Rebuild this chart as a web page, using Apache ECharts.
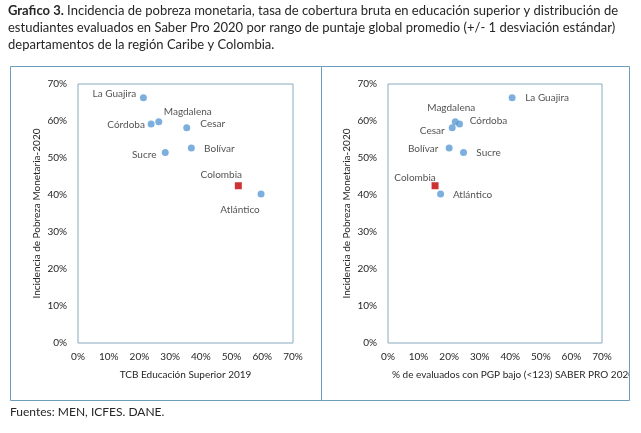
<!DOCTYPE html>
<html>
<head>
<meta charset="utf-8">
<script src="https://cdn.jsdelivr.net/npm/echarts@6/dist/echarts.min.js"></script>
<style>
html,body{margin:0;padding:0;background:#fff;}
#chart{width:641px;height:433px;}
</style>
</head>
<body>
<div id="chart"></div>
<script>
// ---- Data ----
var departamentos = ['La Guajira', 'Magdalena', 'Córdoba', 'Cesar', 'Bolívar', 'Sucre', 'Atlántico'];
var pobreza2020 = [66.3, 59.8, 59.2, 58.2, 52.7, 51.5, 40.3];
var tcb2019 = [21.3, 26.3, 23.8, 35.4, 36.9, 28.4, 59.6];
var pgpBajo2020 = [40.6, 22.0, 23.4, 21.0, 20.0, 24.7, 17.2];
var colombiaName = 'Colombia';
var colombiaPobreza = 42.5;
var colombiaTcb = 52.2;
var colombiaPgp = 15.4;
var axisTicks = [0, 10, 20, 30, 40, 50, 60, 70];

var titleBold = 'Grafico 3.';
var titleLines = [
  ' Incidencia de pobreza monetaria, tasa de cobertura bruta en educación superior y distribución de',
  'estudiantes evaluados en Saber Pro 2020 por rango de puntaje global promedio (+/- 1 desviación estándar)',
  'departamentos de la región Caribe y Colombia.'
];
var yAxisTitle = 'Incidencia de Pobreza Monetaria-2020';
var xAxisTitleLeft = 'TCB Educación Superior 2019';
var xAxisTitleRight = '% de evaluados con PGP bajo (<123) SABER PRO 2020';
var fuente = 'Fuentes: MEN, ICFES. DANE.';

// ---- Label placement (styling) ----
var offsLeft = {
  'La Guajira': [-29, -4], 'Magdalena': [29, -10], 'Córdoba': [-25, 1], 'Cesar': [26, -4],
  'Bolívar': [28, 1], 'Sucre': [-21, 2], 'Atlántico': [-21, 16], 'Colombia': [-17, -11]
};
var offsRight = {
  'La Guajira': [35, 0], 'Magdalena': [-4, -14], 'Córdoba': [29, -3], 'Cesar': [-20, 3],
  'Bolívar': [-26, 1], 'Sucre': [25, 0], 'Atlántico': [32, 1], 'Colombia': [-20, -8]
};

var FONT = 'Lato';
var TXT = '#262626';
var BLUE = '#5B9BD5';
var RED = '#C00000';
var FRAME = '#6f9cb8';
var PLOT = '#8aaac0';
var TF = 13;

function items(xs, offs) {
  return departamentos.map(function (n, i) {
    return {
      name: n, value: [xs[i], pobreza2020[i]],
      label: { offset: offs[n] }
    };
  });
}
function colItem(x, offs) {
  return [{ name: colombiaName, value: [x, colombiaPobreza], label: { offset: offs[colombiaName] } }];
}
var labelBase = {
  show: true, position: 'inside', align: 'center', verticalAlign: 'middle',
  formatter: '{b}', color: TXT, fontFamily: FONT, fontSize: 10
};
function xAxis(idx, name) {
  return {
    gridIndex: idx, type: 'value', min: axisTicks[0], max: axisTicks[axisTicks.length - 1], interval: 10,
    axisLine: { show: false }, axisTick: { show: false }, splitLine: { show: false },
    axisLabel: { formatter: '{value}%', color: TXT, fontFamily: FONT, fontSize: 10, margin: 9 },
    name: name, nameLocation: 'middle', nameGap: 27,
    nameTextStyle: { color: TXT, fontFamily: FONT, fontSize: 10 }
  };
}
function yAxis(idx) {
  return {
    gridIndex: idx, type: 'value', min: axisTicks[0], max: axisTicks[axisTicks.length - 1], interval: 10,
    axisLine: { show: false }, axisTick: { show: false }, splitLine: { show: false },
    axisLabel: { formatter: '{value}%', color: TXT, fontFamily: FONT, fontSize: 10, margin: 11 },
    name: yAxisTitle, nameLocation: 'middle', nameGap: 36, nameRotate: 90,
    nameTextStyle: { color: TXT, fontFamily: FONT, fontSize: 10 }
  };
}

var chart = echarts.init(document.getElementById('chart'), null, { renderer: 'canvas' });
chart.setOption({
  animation: false,
  backgroundColor: '#fff',
  grid: [
    { left: 78, top: 84, width: 215, height: 259, show: true, borderColor: PLOT, borderWidth: 1, backgroundColor: 'transparent' },
    { left: 388, top: 84, width: 214, height: 259, show: true, borderColor: PLOT, borderWidth: 1, backgroundColor: 'transparent' }
  ],
  xAxis: [xAxis(0, xAxisTitleLeft), xAxis(1, '')],
  yAxis: [yAxis(0), yAxis(1)],
  series: [
    { type: 'scatter', xAxisIndex: 0, yAxisIndex: 0, symbol: 'circle', symbolSize: 7,
      itemStyle: { color: BLUE }, label: labelBase, data: items(tcb2019, offsLeft) },
    { type: 'scatter', xAxisIndex: 0, yAxisIndex: 0, symbol: 'rect', symbolSize: 7,
      itemStyle: { color: RED }, label: labelBase, data: colItem(colombiaTcb, offsLeft) },
    { type: 'scatter', xAxisIndex: 1, yAxisIndex: 1, symbol: 'circle', symbolSize: 7,
      itemStyle: { color: BLUE }, label: labelBase, data: items(pgpBajo2020, offsRight) },
    { type: 'scatter', xAxisIndex: 1, yAxisIndex: 1, symbol: 'rect', symbolSize: 7,
      itemStyle: { color: RED }, label: labelBase, data: colItem(colombiaPgp, offsRight) }
  ],
  graphic: [
    { type: 'text', left: 8, top: 4, style: {
        text: '{b|' + titleBold + '}' + titleLines[0], fill: TXT, font: TF + 'px ' + FONT,
        rich: { b: { fontWeight: 'bold', fontFamily: FONT, fontSize: TF, fill: TXT } } } },
    { type: 'text', left: 8, top: 21, style: { text: titleLines[1], fill: TXT, font: TF + 'px ' + FONT } },
    { type: 'text', left: 8, top: 38, style: { text: titleLines[2], fill: TXT, font: TF + 'px ' + FONT } },
    { type: 'text', left: 392, top: 370, z: 5, style: { text: xAxisTitleRight, fill: TXT, font: '10px ' + FONT } },
    { type: 'rect', shape: { x: 630, y: 360, width: 11, height: 30 }, z: 6, style: { fill: '#fff' } },
    { type: 'rect', shape: { x: 10.5, y: 66.5, width: 311, height: 334 }, z: 10, style: { fill: 'none', stroke: FRAME, lineWidth: 1 } },
    { type: 'rect', shape: { x: 321.5, y: 66.5, width: 308, height: 334 }, z: 10, style: { fill: 'none', stroke: FRAME, lineWidth: 1 } },
    { type: 'text', left: 10, top: 406, style: { text: fuente, fill: TXT, font: '12px ' + FONT } }
  ]
});
</script>
</body>
</html>
